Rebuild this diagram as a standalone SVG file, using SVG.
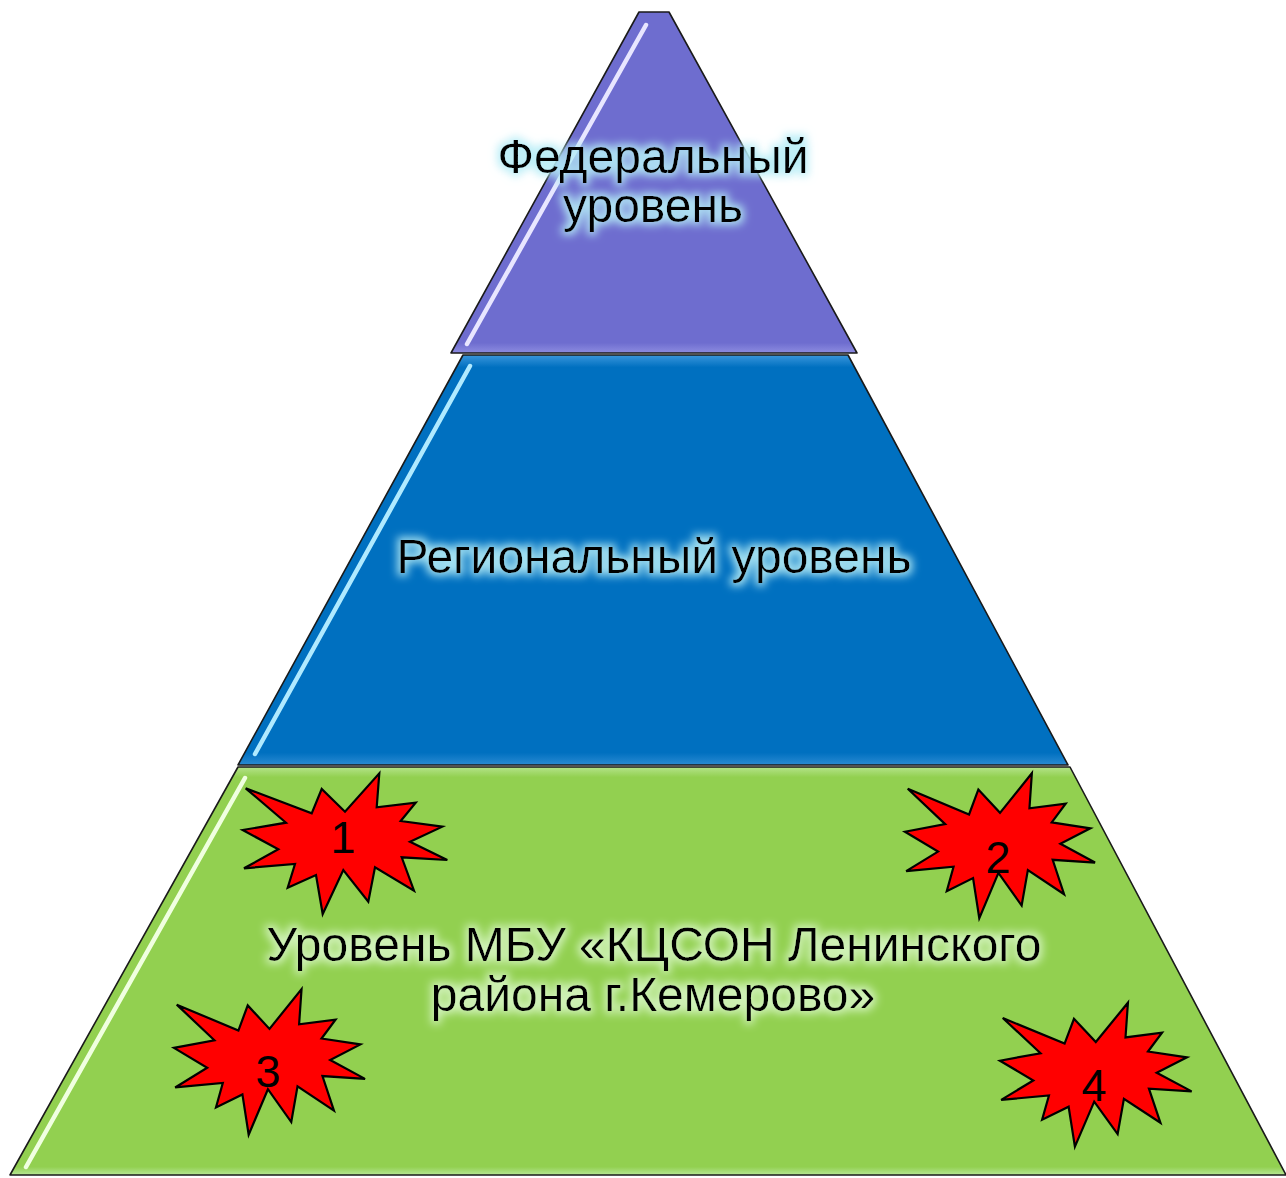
<svg xmlns="http://www.w3.org/2000/svg" xmlns:xlink="http://www.w3.org/1999/xlink" width="1286" height="1178" viewBox="0 0 1286 1178">
<defs>
<style>
.lvl{stroke:#1a1a1a;stroke-width:1.6;stroke-linejoin:round}
.lbl{font-family:"Liberation Sans",Arial,sans-serif;font-size:48px;fill:#000;text-anchor:middle}
.num{font-family:"Liberation Sans",Arial,sans-serif;font-size:45px;fill:#000;text-anchor:middle}
.star{fill:#ff0000;stroke:#000;stroke-width:2.2;stroke-linejoin:miter;vector-effect:non-scaling-stroke}
.hl{fill:none;stroke-width:4.5;stroke-linecap:round}
</style>
<linearGradient id="gTop" x1="0" y1="0" x2="0" y2="1">
<stop offset="0" stop-color="#6e6dcf"/><stop offset="0.97" stop-color="#6e6dcf"/><stop offset="1" stop-color="#8d8ce0"/>
</linearGradient>
<linearGradient id="gMid" x1="0" y1="0" x2="0" y2="1">
<stop offset="0" stop-color="#3a96dc"/><stop offset="0.03" stop-color="#0070c0"/><stop offset="0.97" stop-color="#0070c0"/><stop offset="1" stop-color="#2a8ad2"/>
</linearGradient>
<linearGradient id="gBot" x1="0" y1="0" x2="0" y2="1">
<stop offset="0" stop-color="#b4e38a"/><stop offset="0.025" stop-color="#92d050"/><stop offset="0.98" stop-color="#92d050"/><stop offset="1" stop-color="#b8e696"/>
</linearGradient>
<filter id="glowBlue" x="-20%" y="-40%" width="140%" height="180%">
<feMorphology in="SourceAlpha" operator="dilate" radius="3" result="d"/>
<feGaussianBlur in="d" stdDeviation="4" result="b"/>
<feFlood flood-color="#b4ecf6" flood-opacity="0.9"/>
<feComposite in2="b" operator="in" result="g"/>
<feMerge><feMergeNode in="g"/><feMergeNode in="SourceGraphic"/></feMerge>
</filter>
<filter id="glowGreen" x="-20%" y="-40%" width="140%" height="180%">
<feMorphology in="SourceAlpha" operator="dilate" radius="3" result="d"/>
<feGaussianBlur in="d" stdDeviation="4" result="b"/>
<feFlood flood-color="#d6f5c2" flood-opacity="0.9"/>
<feComposite in2="b" operator="in" result="g"/>
<feMerge><feMergeNode in="g"/><feMergeNode in="SourceGraphic"/></feMerge>
</filter>
<filter id="soft" x="-10%" y="-10%" width="120%" height="120%">
<feGaussianBlur stdDeviation="0.7"/>
</filter>
<path id="starShape" class="star" d="M34.3,-70.4 L31.7,-36.4 L70.7,-41 L55.7,-22.7 L97.3,-17 L65,-2 L102.3,16.3 L56.7,13.6 L69,47 L30,23.6 L23.3,58 L-1.7,26.3 L-22.3,70.3 L-29,31.3 L-57.3,44 L-50,20.3 L-101,24.6 L-66.7,5.6 L-102.3,-13.7 L-59,-21 L-99.3,-55.4 L-33.3,-30.4 L-23.3,-54.7 L0,-32 Z"/>
</defs>
<rect width="1286" height="1178" fill="#ffffff"/>

<g id="level-federal">
<polygon class="lvl" fill="url(#gTop)" points="639,12 669,12 857,353 451,353"/>
<line class="hl" stroke="#e8e6ff" filter="url(#soft)" x1="646" y1="25" x2="467" y2="344"/>
<text class="lbl" filter="url(#glowBlue)" x="653" y="173">Федеральный</text>
<text class="lbl" filter="url(#glowBlue)" x="653" y="222">уровень</text>
</g>

<g id="level-regional">
<polygon class="lvl" fill="url(#gMid)" points="463,355 848,355 1068,765 238,765"/>
<line class="hl" stroke="#b0eaff" filter="url(#soft)" x1="470" y1="366" x2="255" y2="754"/>
<text class="lbl" filter="url(#glowBlue)" x="654" y="573">Региональный уровень</text>
</g>

<g id="level-mbu">
<polygon class="lvl" fill="url(#gBot)" points="238,767 1070,767 1286,1175 10,1175"/>
<line class="hl" stroke="#f0ffe0" filter="url(#soft)" x1="245" y1="778" x2="26" y2="1167"/>
<text class="lbl" filter="url(#glowGreen)" x="654" y="961">Уровень МБУ «КЦСОН Ленинского</text>
<text class="lbl" filter="url(#glowGreen)" x="653" y="1011">района г.Кемерово»</text>
</g>

<g id="star-1">
<use xlink:href="#starShape" href="#starShape" transform="translate(345,843.7)"/>
<text class="num" x="343" y="853">1</text>
</g>
<g id="star-2">
<use xlink:href="#starShape" href="#starShape" transform="translate(1000,845.8) scale(0.929,1.03)"/>
<text class="num" x="998" y="873">2</text>
</g>
<g id="star-3">
<use xlink:href="#starShape" href="#starShape" transform="translate(269.5,1062) scale(0.934,1.035)"/>
<text class="num" x="268" y="1087">3</text>
</g>
<g id="star-4">
<use xlink:href="#starShape" href="#starShape" transform="translate(1095.8,1074.7) scale(0.937,1.023)"/>
<text class="num" x="1094" y="1101">4</text>
</g>

<g id="connectors"/>
</svg>
